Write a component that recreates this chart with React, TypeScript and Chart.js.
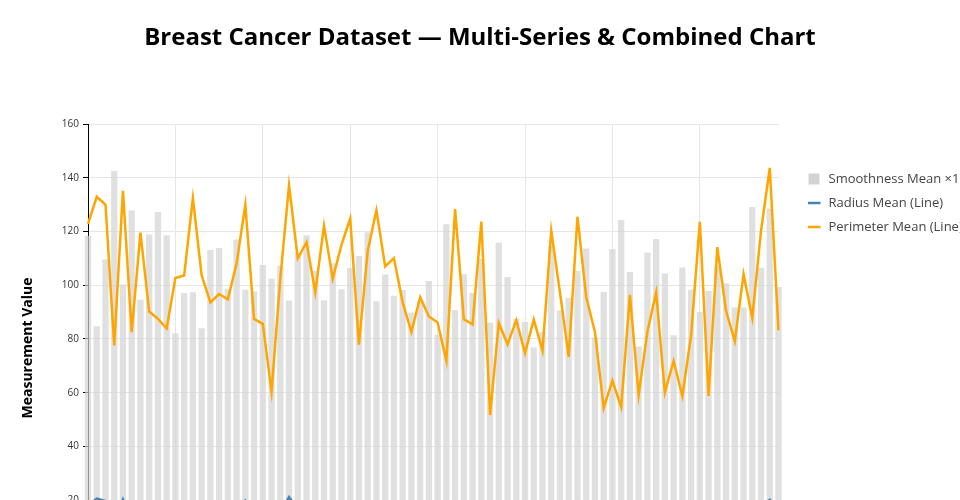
import React, { useEffect, useRef } from "react";
import { Chart, registerables } from "chart.js";

Chart.register(...registerables);

// ---- Data (first 80 cases of the Wisconsin breast cancer dataset) ----
const caseIndex: string[] = Array.from({ length: 80 }, (_, i) => String(i));

const smoothnessX1000: number[] = [
  118.4, 84.74, 109.6, 142.5, 100.3, 127.8, 94.63, 118.9, 127.3, 118.6,
  82.06, 97.1, 97.4, 84.01, 113.1, 113.9, 98.67, 117.0, 98.31, 97.79,
  107.5, 102.4, 107.3, 94.28, 112.1, 118.6, 105.4, 94.4, 108.2, 98.47,
  106.4, 110.9, 119.7, 94.01, 104.0, 96.1, 98.23, 89.83, 93.87, 101.6,
  81.62, 122.7, 90.81, 104.1, 97.14, 109.9, 86.0, 115.8, 103.1, 87.52,
  86.37, 76.85, 82.61, 114.8, 90.56, 95.24, 105.3, 113.7, 80.6, 97.52,
  113.4, 124.3, 104.9, 77.21, 112.2, 117.2, 104.4, 81.39, 106.6, 98.31,
  90.09, 97.83, 107.1, 100.7, 91.72, 91.68, 129.1, 106.5, 128.6, 99.34,
];

const radiusMean: number[] = [
  17.99, 20.57, 19.69, 11.42, 20.29, 12.45, 18.25, 13.71, 13.0, 12.46,
  16.02, 15.78, 19.17, 15.85, 13.73, 14.54, 14.68, 16.13, 19.81, 13.54,
  13.08, 9.504, 15.34, 21.16, 16.65, 17.14, 14.58, 18.61, 15.3, 17.57,
  18.63, 11.84, 17.02, 19.27, 16.13, 16.74, 14.25, 13.03, 14.99, 13.48,
  13.44, 10.95, 19.07, 13.28, 13.17, 18.65, 8.196, 13.17, 12.05, 13.49,
  11.76, 13.64, 11.94, 18.22, 15.1, 11.52, 19.21, 14.71, 13.05, 8.618,
  10.17, 8.598, 14.25, 9.173, 12.68, 14.78, 9.465, 11.31, 9.029, 12.78,
  18.94, 8.888, 17.2, 13.8, 12.31, 16.07, 13.53, 18.05, 20.18, 12.86,
];

const perimeterMean: number[] = [
  122.8, 132.9, 130.0, 77.58, 135.1, 82.57, 119.6, 90.2, 87.5, 83.97,
  102.7, 103.6, 132.4, 103.7, 93.6, 96.73, 94.74, 108.1, 130.0, 87.46,
  85.63, 60.34, 102.5, 137.2, 110.0, 116.0, 97.41, 122.1, 102.4, 115.0,
  124.8, 77.93, 112.8, 127.9, 107.0, 110.1, 93.63, 82.61, 95.54, 88.4,
  86.18, 71.9, 128.3, 87.32, 85.42, 123.7, 51.71, 85.98, 78.04, 86.91,
  74.72, 87.21, 75.71, 120.3, 97.26, 73.34, 125.5, 95.55, 82.61, 54.34,
  64.55, 54.66, 96.42, 59.2, 82.69, 97.4, 60.11, 71.8, 58.79, 81.37,
  123.6, 58.79, 114.2, 90.43, 79.19, 104.1, 87.91, 120.2, 143.7, 83.19,
];

const yTicks: number[] = [0, 20, 40, 60, 80, 100, 120, 140, 160];

const seriesLabels = {
  bars: "Smoothness Mean ×1000",
  radius: "Radius Mean (Line)",
  perimeter: "Perimeter Mean (Line)",
};

const FONT = "'Open Sans', 'Noto Sans', sans-serif";

const legendPlugin = {
  id: "sideLegend",
  afterDraw(chart: any) {
    const { ctx, chartArea } = chart;
    const x0 = chartArea.right + 30;
    const rows = [179, 203, 227];
    ctx.save();
    ctx.font = `13px ${FONT}`;
    ctx.textBaseline = "middle";
    ctx.textAlign = "left";
    chart.data.datasets.forEach((ds: any, i: number) => {
      const y = rows[i];
      if (ds.type === "bar" || !ds.type) {
        ctx.fillStyle = "#d3d3d3";
        ctx.fillRect(x0, y - 5.5, 11, 11);
      } else {
        ctx.strokeStyle = ds.borderColor;
        ctx.lineWidth = 2.5;
        ctx.beginPath();
        ctx.moveTo(x0 - 0.5, y);
        ctx.lineTo(x0 + 12, y);
        ctx.stroke();
      }
      ctx.fillStyle = "#444";
      ctx.fillText(ds.label, x0 + 20, y);
    });
    ctx.restore();
  },
};

export default function App() {
  const ref = useRef<HTMLCanvasElement | null>(null);

  useEffect(() => {
    if (!ref.current) return;
    const chart = new Chart(ref.current, {
      type: "bar",
      data: {
        labels: caseIndex,
        datasets: [
          {
            type: "bar",
            label: seriesLabels.bars,
            data: smoothnessX1000,
            backgroundColor: "rgba(211,211,211,0.7)",
            borderWidth: 0,
            categoryPercentage: 1,
            barPercentage: 0.72,
            clip: false,
            order: 3,
          } as any,
          {
            type: "line",
            label: seriesLabels.radius,
            data: radiusMean,
            borderColor: "#4682b4",
            backgroundColor: "#4682b4",
            borderWidth: 2.5,
            pointRadius: 0,
            tension: 0,
            fill: false,
            order: 2,
          },
          {
            type: "line",
            label: seriesLabels.perimeter,
            data: perimeterMean,
            borderColor: "#ffa500",
            backgroundColor: "#ffa500",
            borderWidth: 2.5,
            pointRadius: 0,
            tension: 0,
            fill: false,
            order: 1,
          },
        ],
      },
      options: {
        responsive: false,
        animation: false,
        devicePixelRatio: 1,
        layout: { padding: { left: 0, right: 0, top: 0, bottom: 0 } },
        plugins: {
          legend: { display: false },
          tooltip: { enabled: false },
          title: {
            display: true,
            fullSize: true,
            text: "Breast Cancer Dataset — Multi-Series & Combined Chart",
            color: "#000",
            font: { family: FONT, size: 24, weight: "bold" },
            padding: { top: 23.5, bottom: 71.7 },
          },
        },
        scales: {
          x: {
            type: "category",
            offset: false,
            afterFit: (s: any) => {
              s.height = 48;
            },
            grid: {
              offset: false,
              color: (c: any) => (c.index % 10 === 0 ? "#e6e6e6" : "rgba(0,0,0,0)"),
              tickColor: (c: any) => (c.index % 10 === 0 ? "#000" : "rgba(0,0,0,0)"),
              tickLength: 5,
            },
            border: { display: true, color: "#000", width: 1 },
            ticks: {
              autoSkip: false,
              maxRotation: 0,
              font: { family: FONT, size: 10 },
              color: "#333",
              callback: (_v: any, i: number) => (i % 10 === 0 ? caseIndex[i] : ""),
            },
          },
          y: {
            min: -6.7,
            max: 160,
            afterBuildTicks: (s: any) => {
              s.ticks = yTicks.map((v) => ({ value: v }));
            },
            afterFit: (s: any) => {
              s.width = 88;
            },
            grid: {
              color: "#e6e6e6",
              lineWidth: 1,
              tickColor: "#000",
              tickLength: 5,
            },
            border: { display: true, color: "#000", width: 1 },
            ticks: {
              font: { family: FONT, size: 10 },
              color: "#333",
              padding: 4,
            },
            title: {
              display: true,
              text: "Measurement Value",
              color: "#000",
              font: { family: FONT, size: 14, weight: "bold" },
              padding: { top: 20, bottom: 0 },
            },
          },
          legendSpace: {
            type: "linear",
            position: "right",
            afterFit: (s: any) => {
              s.width = 181.5;
            },
            grid: { display: false, drawTicks: false },
            border: { display: false },
            ticks: { display: false },
          },
        },
      },
      plugins: [legendPlugin],
    });
    return () => chart.destroy();
  }, []);

  return (
    <div
      style={{
        position: "absolute",
        left: 0,
        top: 0,
        width: 960,
        height: 500,
        overflow: "hidden",
        background: "#fff",
      }}
    >
      <canvas ref={ref} width={960} height={620} style={{ display: "block", width: 960, height: 620 }} />
    </div>
  );
}
